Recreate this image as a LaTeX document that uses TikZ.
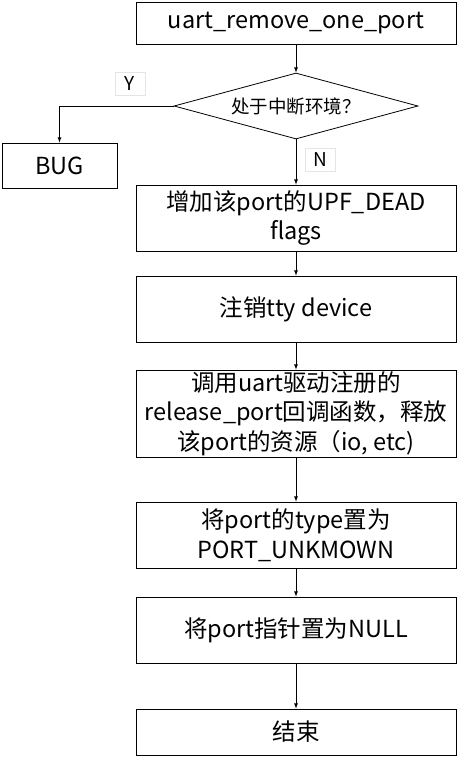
\documentclass[tikz,border=0pt]{standalone}
\usepackage{fontspec}
\setmainfont{Noto Sans CJK SC}
\usepackage{tikz}
\usetikzlibrary{calc,positioning,shapes.geometric}

\tikzset{
  stepbox/.style={draw, line width=0.8pt, minimum width=320pt, align=center, inner sep=0pt,
    font=\fontsize{23.5}{29.5}\selectfont},
  decision/.style={draw, line width=0.8pt, diamond, aspect=3.7, inner sep=0pt,
    minimum width=244pt, minimum height=66pt, font=\fontsize{18.5}{22}\selectfont},
  answer/.style={draw=gray!20, line width=0.6pt, minimum width=30pt, minimum height=23pt,
    inner sep=0pt, font=\fontsize{19}{22}\selectfont},
  flow/.style={line width=0.8pt, -latex}
}

\begin{document}
\begin{tikzpicture}[x=1pt,y=-1pt]
      \useasboundingbox (0,0) rectangle (459,758);

      \node[stepbox, minimum height=42pt] (start) at (296,23) {uart\_remove\_one\_port};
      \node[decision] (irq) at (296,106) {处于中断环境？};
      \node[stepbox, minimum width=115pt, minimum height=45pt] (bug) at (59.5,165.5) {BUG};
      \node[answer] (yes) at (130,84) {Y};
      \node[answer] (no) at (320,160) {N};

      \node[stepbox, minimum height=66pt] (dead) at (296,218) {增加该port的UPF\_DEAD\\flags};
      \node[stepbox, minimum height=66pt] (tty) at (296,309) {注销tty device};
      \node[stepbox, minimum height=87pt] (release) at (296,413.5)
        {调用uart驱动注册的\\release\_port回调函数，释放\\该port的资源（io, etc)};
      \node[stepbox, minimum height=66pt] (type) at (296,535) {将port的type置为\\PORT\_UNKMOWN};
      \node[stepbox, minimum height=66pt] (null) at (296,630) {将port指针置为NULL};
      \node[stepbox, minimum height=46pt] (stop) at (296,732) {结束};

      \draw[flow] (start) -- (irq);
      \draw[flow] (irq.west) -| (bug);
      \draw[flow] (irq) -- (dead);
      \draw[flow] (dead) -- (tty);
      \draw[flow] (tty) -- (release);
      \draw[flow] (release) -- (type);
      \draw[flow] (type) -- (null);
      \draw[flow] (null) -- (stop);
\end{tikzpicture}
\end{document}
